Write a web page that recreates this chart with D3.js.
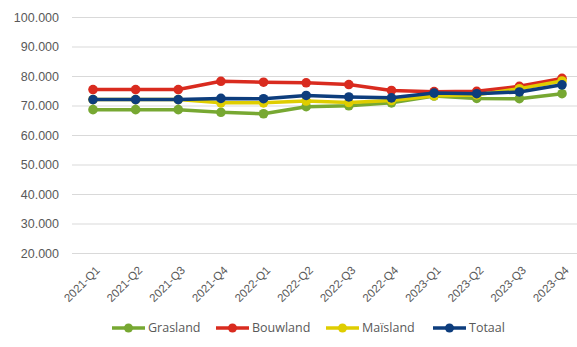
<!DOCTYPE html>
<html>
<head>
<meta charset="utf-8">
<script src="https://cdn.jsdelivr.net/npm/d3@7/dist/d3.min.js"></script>
<style>
  body { margin: 0; background: #fff; }
  svg { display: block; font-family: "Open Sans", "Liberation Sans", sans-serif; }
</style>
</head>
<body>
<svg id="chart"></svg>
<script>
var quarters = ['2021-Q1', '2021-Q2', '2021-Q3', '2021-Q4', '2022-Q1', '2022-Q2', '2022-Q3', '2022-Q4', '2023-Q1', '2023-Q2', '2023-Q3', '2023-Q4']
var grasland = [68600, 68600, 68600, 67700, 67200, 69600, 69900, 70900, 73200, 72400, 72300, 74000]
var bouwland = [75400, 75400, 75400, 78200, 77900, 77700, 77100, 75100, 74700, 74800, 76500, 79200]
var maisland = [72000, 72000, 72000, 70900, 70900, 71500, 71000, 71700, 73300, 73600, 75700, 78300]
var totaal = [72000, 72000, 72000, 72400, 72300, 73400, 72900, 72600, 74200, 74000, 74600, 77000]
var seriesNames = ['Grasland', 'Bouwland', 'Maïsland', 'Totaal']
var yTicks = [20000, 30000, 40000, 50000, 60000, 70000, 80000, 90000, 100000]

var colors = ['#77a832', '#d92b1f', '#dfcd00', '#0d3d7d']
var allSeries = [grasland, bouwland, maisland, totaal]

var width = 577, height = 347
var svg = d3.select('#chart').attr('width', width).attr('height', height)

var xScale = d3.scalePoint()
    .domain(quarters)
    .range([93, 562])
var yScale = d3.scaleLinear()
    .domain([20000, 100000])
    .range([253, 17])

var fmt = function (d) { return d3.format(',')(d).replace(/,/g, '.') }

// gridlines + y labels
var yAxis = d3.axisLeft(yScale)
    .tickValues(yTicks)
    .tickSize(-(width - 72))
    .tickPadding(13)
    .tickFormat(fmt)
svg.append('g')
    .attr('transform', 'translate(72,0)')
    .call(yAxis)
    .call(function (g) {
        g.select('.domain').remove()
        g.selectAll('line').attr('stroke', '#d9d9d9').attr('stroke-width', 1)
        g.selectAll('text').attr('fill', '#595959').attr('font-size', '12.5px')
    })

// x labels
var xAxis = d3.axisBottom(xScale).tickSize(0).tickPadding(0)
svg.append('g')
    .attr('transform', 'translate(0,253)')
    .call(xAxis)
    .call(function (g) {
        g.select('.domain').remove()
        g.selectAll('text')
            .attr('fill', '#595959')
            .attr('font-size', '11.5px')
            .attr('text-anchor', 'end')
            .attr('dy', 0)
            .attr('transform', 'translate(7,18) rotate(-45)')
    })

var line = d3.line()
    .x(function (d, i) { return xScale(quarters[i]) })
    .y(function (d) { return yScale(d) })

allSeries.forEach(function (s, k) {
    var g = svg.append('g')
    g.append('path')
        .datum(s)
        .attr('d', line)
        .attr('fill', 'none')
        .attr('stroke', colors[k])
        .attr('stroke-width', 3.5)
        .attr('stroke-linejoin', 'round')
    g.selectAll('circle')
        .data(s)
        .enter()
        .append('circle')
        .attr('cx', function (d, i) { return xScale(quarters[i]) })
        .attr('cy', function (d) { return yScale(d) })
        .attr('r', 4.8)
        .attr('fill', colors[k])
})

// legend
var legendX = [112, 216, 326, 433]
var legend = svg.append('g').attr('transform', 'translate(0,328)')
seriesNames.forEach(function (name, k) {
    var lg = legend.append('g').attr('transform', 'translate(' + legendX[k] + ',0)')
    lg.append('line')
        .attr('x1', 0).attr('x2', 33)
        .attr('stroke', colors[k]).attr('stroke-width', 3.5)
    lg.append('circle').attr('cx', 16.5).attr('r', 4.5).attr('fill', colors[k])
    lg.append('text')
        .attr('x', 36).attr('dy', '0.35em')
        .attr('fill', '#595959')
        .attr('font-size', '12.5px')
        .text(name)
})
</script>
</body>
</html>
